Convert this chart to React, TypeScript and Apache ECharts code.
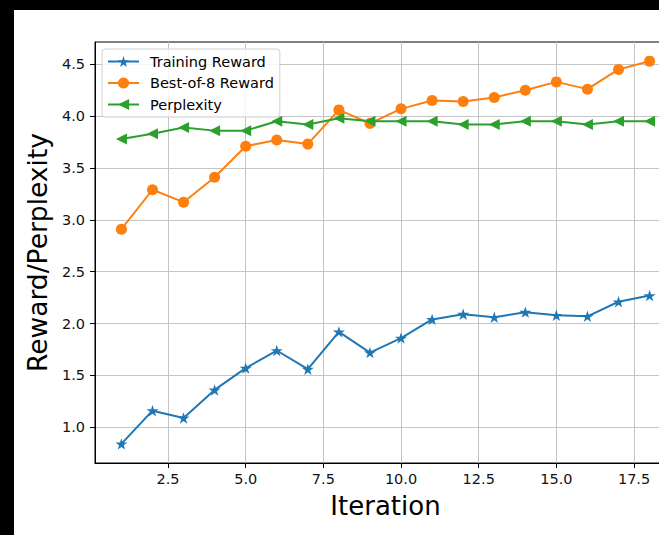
import React, { useEffect, useRef } from 'react';
import * as echarts from 'echarts';

const iterations = [1, 2, 3, 4, 5, 6, 7, 8, 9, 10, 11, 12, 13, 14, 15, 16, 17, 18];
const trainingReward = [0.84, 1.16, 1.09, 1.36, 1.57, 1.74, 1.56, 1.92, 1.72, 1.86, 2.04, 2.09, 2.06, 2.11, 2.08, 2.07, 2.21, 2.27];
const bestOf8Reward = [2.91, 3.29, 3.17, 3.41, 3.71, 3.77, 3.73, 4.06, 3.93, 4.07, 4.15, 4.14, 4.18, 4.25, 4.33, 4.26, 4.45, 4.53];
const perplexity = [3.78, 3.83, 3.89, 3.86, 3.86, 3.95, 3.92, 3.98, 3.95, 3.95, 3.95, 3.92, 3.92, 3.95, 3.95, 3.92, 3.95, 3.95];
const xTicks = [2.5, 5.0, 7.5, 10.0, 12.5, 15.0, 17.5];
const yTicks = [1.0, 1.5, 2.0, 2.5, 3.0, 3.5, 4.0, 4.5];

const STAR = 'path://M0,-10L2.245,-3.09L9.511,-3.09L3.633,1.18L5.878,8.09L0,3.82L-5.878,8.09L-3.633,1.18L-9.511,-3.09L-2.245,-3.09Z';
const FONT = 'DejaVu Sans';

function pad(arr: number[]) {
  const lo = Math.min(...arr);
  const hi = Math.max(...arr);
  const m = (hi - lo) * 0.05;
  return [lo - m, hi + m];
}

export default function App() {
  const ref = useRef<HTMLDivElement>(null);
  useEffect(() => {
    if (!ref.current) return;
    const chart = echarts.init(ref.current, undefined, { renderer: 'svg' });
    const [xmin, xmax] = pad(iterations);
    const [ymin, ymax] = pad([...trainingReward, ...bestOf8Reward, ...perplexity]);
    const zip = (ys: number[]) => iterations.map((x, i) => [x, ys[i]]);
    chart.setOption({
      animation: false,
      backgroundColor: '#fff',
      grid: { left: 81, top: 32, width: 581, height: 421, show: true, borderColor: '#000', borderWidth: 1, backgroundColor: 'transparent' },
      legend: {
        orient: 'vertical',
        left: 88,
        top: 39,
        padding: [5, 6, 5, 5],
        itemWidth: 31,
        itemHeight: 14,
        itemGap: 6.5,
        backgroundColor: 'rgba(255,255,255,0.85)',
        borderColor: '#d0d0d0',
        borderWidth: 1,
        borderRadius: 3,
        textStyle: { fontFamily: FONT, fontSize: 14.5, color: '#000', lineHeight: 14, padding: [0, 0, 0, 6] },
        data: ['Training Reward', 'Best-of-8 Reward', 'Perplexity'],
      },
      xAxis: {
        type: 'value',
        min: xmin,
        max: xmax,
        name: 'Iteration',
        nameLocation: 'middle',
        nameGap: 30,
        nameTextStyle: { fontFamily: FONT, fontSize: 26, color: '#000' },
        axisLine: { show: true, lineStyle: { color: '#000', width: 1 } },
        axisTick: { show: true, length: 5, lineStyle: { color: '#000' }, customValues: xTicks },
        axisLabel: { customValues: xTicks, fontFamily: FONT, fontSize: 14.5, color: '#111', margin: 8, formatter: (v: number) => v.toFixed(1) },
        splitLine: { show: true, lineStyle: { color: '#c4c4c4', width: 1 } },
      },
      yAxis: {
        type: 'value',
        min: ymin,
        max: ymax,
        name: 'Reward/Perplexity',
        nameLocation: 'middle',
        nameGap: 42,
        nameTextStyle: { fontFamily: FONT, fontSize: 26.5, color: '#000' },
        axisLine: { show: true, lineStyle: { color: '#000', width: 1 } },
        axisTick: { show: true, length: 5, lineStyle: { color: '#000' }, customValues: yTicks },
        axisLabel: { customValues: yTicks, fontFamily: FONT, fontSize: 14.5, color: '#111', margin: 10, formatter: (v: number) => v.toFixed(1) },
        splitLine: { show: true, lineStyle: { color: '#c4c4c4', width: 1 } },
      },
      series: [
        {
          name: 'Training Reward', type: 'line', data: zip(trainingReward),
          symbol: STAR, symbolSize: 12, symbolKeepAspect: true,
          lineStyle: { color: '#1f77b4', width: 2 }, itemStyle: { color: '#1f77b4' },
        },
        {
          name: 'Best-of-8 Reward', type: 'line', data: zip(bestOf8Reward),
          symbol: 'circle', symbolSize: 11,
          lineStyle: { color: '#ff7f0e', width: 2 }, itemStyle: { color: '#ff7f0e' },
        },
        {
          name: 'Perplexity', type: 'line', data: zip(perplexity),
          symbol: 'triangle', symbolSize: 11, symbolRotate: 90,
          lineStyle: { color: '#2ca02c', width: 2 }, itemStyle: { color: '#2ca02c' },
        },
      ],
    });
    return () => chart.dispose();
  }, []);
  return (
    <div style={{ position: 'fixed', left: 0, top: 0, width: 659, height: 535, background: '#000', overflow: 'hidden' }}>
      <div ref={ref} style={{ position: 'absolute', left: 14, top: 10, width: 680, height: 526, background: '#fff' }} />
    </div>
  );
}
